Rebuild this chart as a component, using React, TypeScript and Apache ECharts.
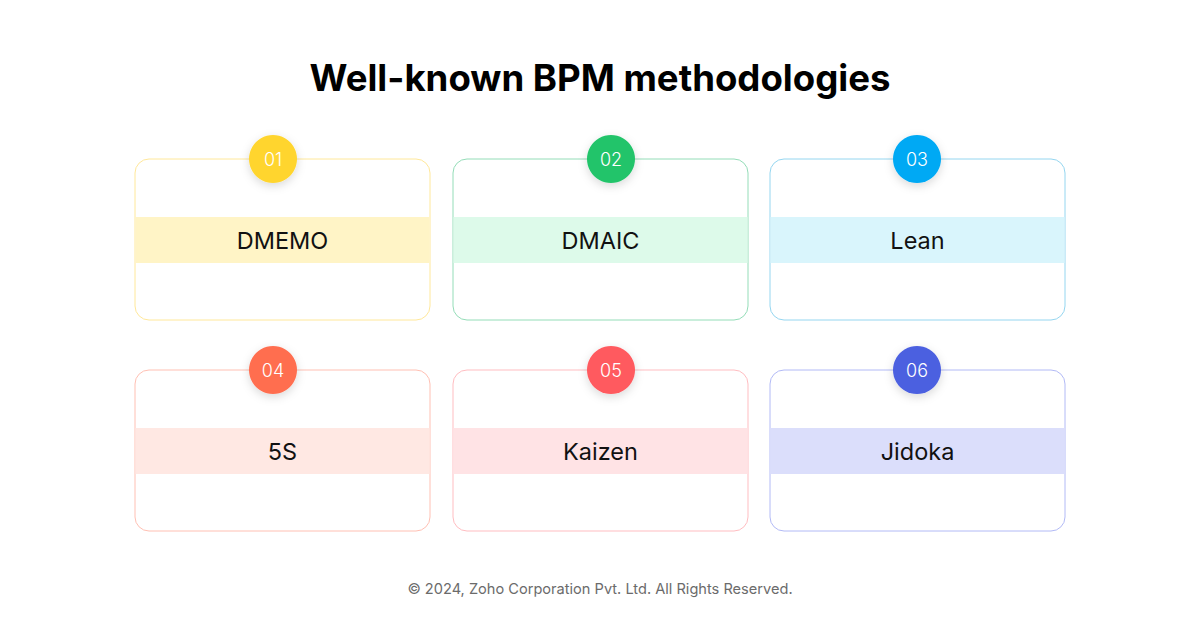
import React, { useEffect, useRef } from "react";
import * as echarts from "echarts";

const titleText = "Well-known BPM methodologies";
const footerText = "© 2024, Zoho Corporation Pvt. Ltd. All Rights Reserved.";
const methodNames = ["DMEMO", "DMAIC", "Lean", "5S", "Kaizen", "Jidoka"];
const methodNumbers = ["01", "02", "03", "04", "05", "06"];

const circleColors = ["#FFD52E", "#22C46A", "#03A9F4", "#FF6E50", "#FF5A5F", "#4C60E0"];
const bandColors = ["#FFF4C6", "#DDFAEA", "#D9F5FC", "#FFE8E3", "#FFE3E5", "#DBDEFB"];
const borderColors = ["#FFE89A", "#94DDB8", "#95D6F0", "#FFC0B3", "#FFBDC1", "#B2BAF6"];

export default function App() {
  const ref = useRef<HTMLDivElement>(null);
  useEffect(() => {
    if (!ref.current) return;
    const chart = echarts.init(ref.current, null, { renderer: "svg" });
    const colLeft = [135, 453, 770];
    const circleX = [273, 611, 917];
    const rowTop = [159, 370];
    const cardW = 295;
    const cardH = 161;
    const elements: any[] = [];
    elements.push({
      type: "text",
      x: 600,
      y: 78,
      style: {
        text: titleText,
        font: "bold 36.6px Inter, sans-serif",
        fill: "#000000",
        textAlign: "center",
        textVerticalAlign: "middle",
      },
    });
    methodNames.forEach((name, i) => {
      const c = i % 3;
      const r = Math.floor(i / 3);
      const x = colLeft[c];
      const y = rowTop[r];
      elements.push({
        type: "rect",
        shape: { x, y, width: cardW, height: cardH, r: 14 },
        style: { fill: "#ffffff", stroke: borderColors[i], lineWidth: 1 },
      });
      elements.push({
        type: "rect",
        shape: { x: x + 0.5, y: y + 58, width: cardW - 1, height: 46 },
        style: { fill: bandColors[i] },
      });
      elements.push({
        type: "text",
        x: x + cardW / 2,
        y: y + 81.5,
        style: {
          text: name,
          font: "23.5px Inter, sans-serif",
          fill: "#111111",
          textAlign: "center",
          textVerticalAlign: "middle",
        },
      });
      elements.push({
        type: "circle",
        shape: { cx: circleX[c], cy: y, r: 24 },
        style: {
          fill: circleColors[i],
          shadowBlur: 10,
          shadowColor: "rgba(0,0,0,0.15)",
          shadowOffsetY: 3,
        },
      });
      elements.push({
        type: "text",
        x: circleX[c],
        y: y + 0.5,
        style: {
          text: methodNumbers[i],
          font: "300 18px Inter, sans-serif",
          fill: "#ffffff",
          textAlign: "center",
          textVerticalAlign: "middle",
        },
      });
    });
    elements.push({
      type: "text",
      x: 600,
      y: 589,
      style: {
        text: footerText,
        font: "14.6px Inter, sans-serif",
        fill: "#6b6b6b",
        textAlign: "center",
        textVerticalAlign: "middle",
      },
    });
    chart.setOption({
      animation: false,
      backgroundColor: "#ffffff",
      graphic: { elements },
    });
    return () => chart.dispose();
  }, []);
  return <div ref={ref} style={{ width: 1200, height: 627, position: "absolute", left: 0, top: 0 }} />;
}
